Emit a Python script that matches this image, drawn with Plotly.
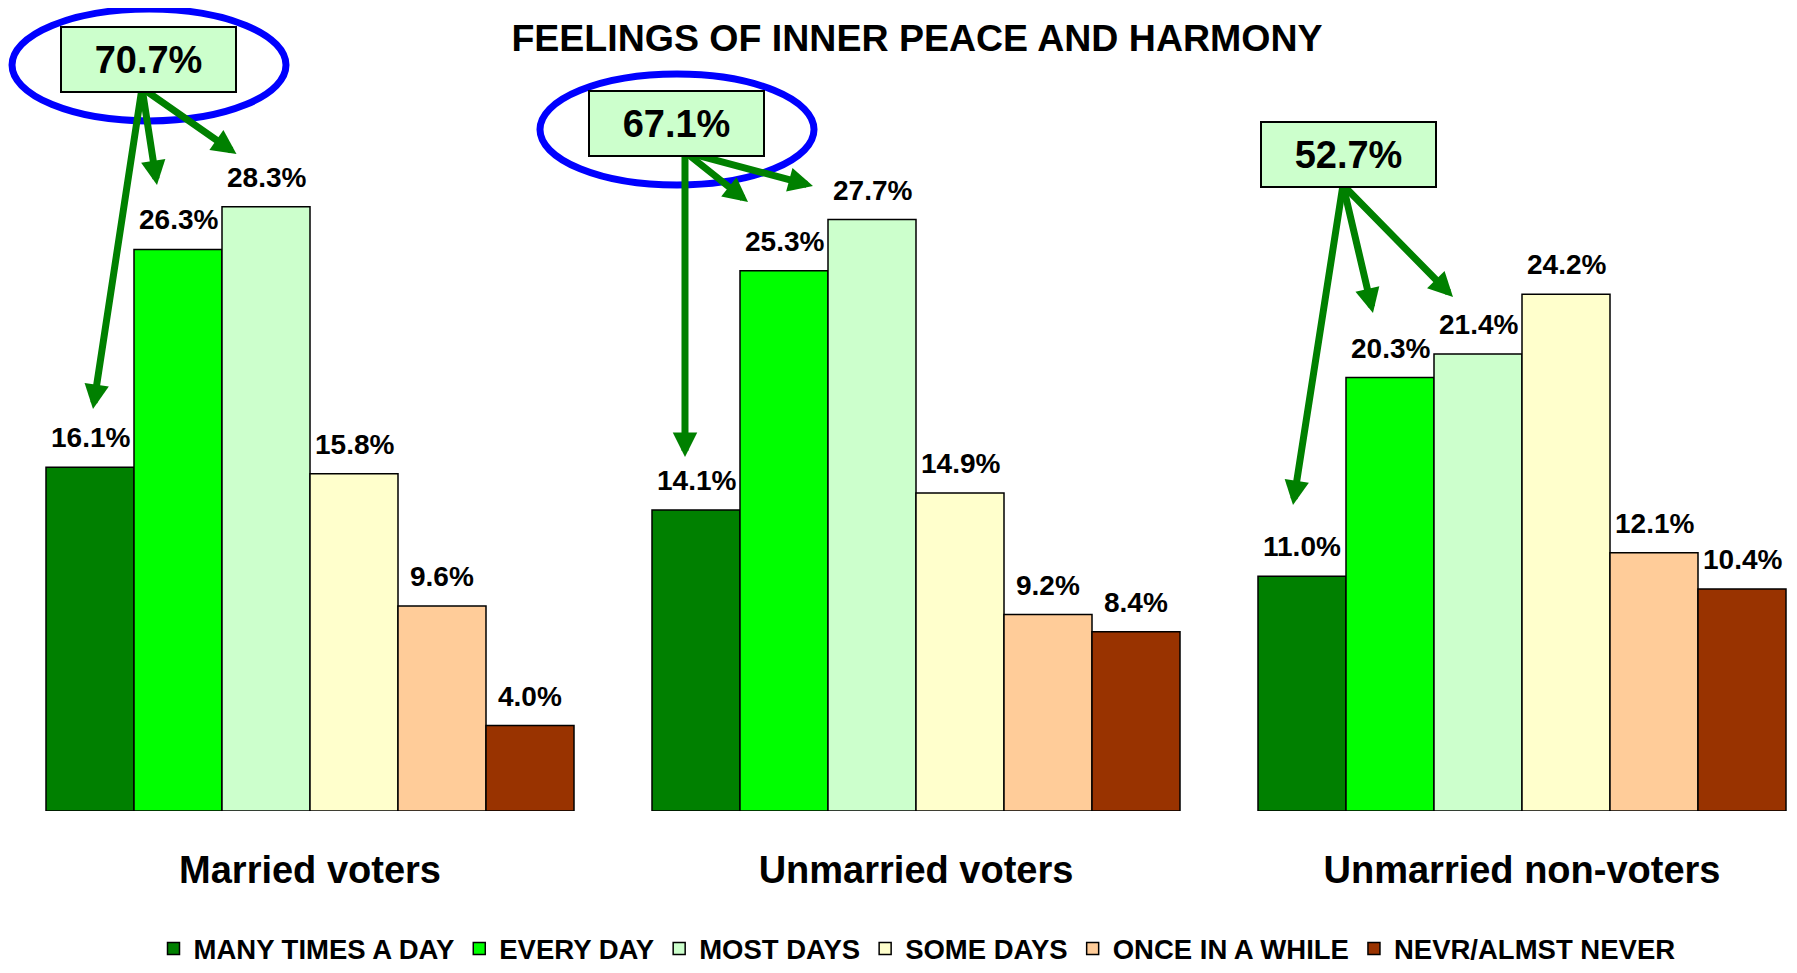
import plotly.graph_objects as go

# ---------------- data ----------------
groups = ["Married voters", "Unmarried voters", "Unmarried non-voters"]
series_names = ["MANY TIMES A DAY", "EVERY DAY", "MOST DAYS", "SOME DAYS",
                "ONCE IN A WHILE", "NEVR/ALMST NEVER"]
many_times = [16.1, 14.1, 11.0]
every_day = [26.3, 25.3, 20.3]
most_days = [28.3, 27.7, 21.4]
some_days = [15.8, 14.9, 24.2]
once_in_while = [9.6, 9.2, 12.1]
never = [4.0, 8.4, 10.4]
totals = ["70.7%", "67.1%", "52.7%"]

series_values = [many_times, every_day, most_days, some_days, once_in_while, never]
colors = ["#008000", "#00FF00", "#CCFFCC", "#FFFFCC", "#FFCC99", "#993300"]

FONT = "Liberation Sans, Arial, sans-serif"
# page has an 8px body margin, so the figure is made 8px smaller
W, H = 1789, 965
BARGAP = 0.1287
xpos = list(range(len(groups)))

fig = go.Figure()
for name, vals, col in zip(series_names, series_values, colors):
    fig.add_trace(go.Bar(
        x=xpos, y=vals, name="<b>" + name + "</b>",
        marker=dict(color=col, line=dict(color="black", width=1.5)),
    ))

annotations = []
# value labels above bars
n = len(series_values)
w = (1 - BARGAP) / n
for i, vals in enumerate(series_values):
    for g, v in enumerate(vals):
        annotations.append(dict(
            x=g + w * (i - (n - 1) / 2), y=v, xref="x", yref="y",
            text="<b>%.1f%%</b>" % v, showarrow=False,
            yanchor="bottom", yshift=12,
            font=dict(family=FONT, size=28, color="black"),
        ))

# arrows from total boxes toward first three labels
arrow_origins = [(-0.2772, 33.86), (0.6188, 30.87), (1.7046, 29.32)]
arrow_tips = [
    [(-0.3581, 18.83), (-0.2525, 29.32), (-0.1213, 30.77)],
    [(0.6188, 16.58), (0.7228, 28.52), (0.8300, 29.27)],
    [(1.6221, 14.33), (1.7541, 23.33), (1.8861, 24.07)],
]
for (ox, oy), tips in zip(arrow_origins, arrow_tips):
    for tx, ty in tips:
        annotations.append(dict(
            x=tx, y=ty, ax=ox, ay=oy, xref="x", yref="y", axref="x", ayref="y",
            text="", showarrow=True, arrowhead=2, arrowsize=0.7,
            arrowwidth=7, arrowcolor="#008000", standoff=0, startstandoff=0,
        ))

# total boxes
box_centers = [(-0.2657, 35.2), (0.6056, 32.18), (1.7137, 30.75)]
for (bx, by), t in zip(box_centers, totals):
    annotations.append(dict(
        x=bx, y=by, xref="x", yref="y", text="<b>" + t + "</b>",
        showarrow=False, bgcolor="#CCFFCC", bordercolor="black", borderwidth=2,
        borderpad=1, width=171, height=61, align="center", valign="middle",
        font=dict(family=FONT, size=38, color="black"),
    ))

shapes = [
    dict(type="circle", xref="x", yref="y", x0=-0.4917, x1=-0.0396, y0=32.32, y1=37.56,
         line=dict(color="#0000FF", width=7)),
    dict(type="circle", xref="x", yref="y", x0=0.3795, x1=0.8317, y0=29.32, y1=34.52,
         line=dict(color="#0000FF", width=7)),
]

PLOT_W = 1782
PX_PER_CAT = 606
X0 = -302 / PX_PER_CAT

fig.update_layout(
    width=W, height=H,
    barmode="group", bargap=BARGAP, bargroupgap=0,
    plot_bgcolor="white", paper_bgcolor="white",
    margin=dict(l=0, r=W - PLOT_W, t=0, b=162, pad=0),
    title=dict(text="<b>FEELINGS OF INNER PEACE AND HARMONY</b>",
               x=909 / W, xanchor="center", y=1 - 30 / H, yanchor="middle",
               font=dict(family=FONT, size=37.5, color="black")),
    xaxis=dict(range=[X0, X0 + PLOT_W / PX_PER_CAT], tickmode="array", tickvals=xpos,
               ticktext=["<b>" + g + "</b>" for g in groups],
               tickfont=dict(family=FONT, size=38, color="black"),
               showline=False, showgrid=False, zeroline=False, ticks="",
               ticklabelstandoff=33, automargin=False, fixedrange=True),
    yaxis=dict(range=[0, 803 / 21.35], visible=False, showgrid=False, zeroline=False,
               automargin=False, fixedrange=True),
    legend=dict(orientation="h", x=909 / PLOT_W, xanchor="center", y=-0.1719,
                yanchor="middle",
                font=dict(family=FONT, size=27.5, color="black"),
                bgcolor="rgba(0,0,0,0)", traceorder="normal"),
    annotations=annotations,
    shapes=shapes,
    showlegend=True,
)

fig.write_html("out.html")
